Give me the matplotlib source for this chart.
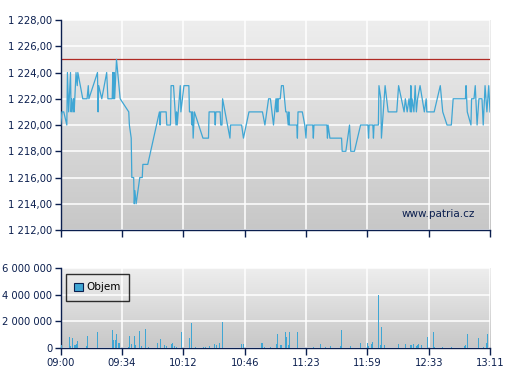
import numpy as np
import matplotlib
matplotlib.use("Agg")
import matplotlib.pyplot as plt
from matplotlib.ticker import FuncFormatter

# x = trade sequence position (axis runs 0..700, one time label every 100)
tick_labels = ["09:00", "09:34", "10:12", "10:46", "11:23", "11:59", "12:33", "13:11"]

price_x = [0, 2, 5, 10, 11, 13, 16, 17, 18, 20, 21, 22, 25, 27, 28, 36, 43, 45, 46, 60,
           61, 62, 67, 75, 77, 84, 85, 86, 87, 88, 91, 93, 97, 111, 112, 115, 116, 119, 120, 121,
           123, 126, 129, 133, 134, 142, 161, 162, 163, 172, 173, 179, 180, 184, 188, 189, 190, 195, 196, 201,
           209, 210, 213, 214, 215, 216, 218, 232, 241, 242, 251, 252, 253, 260, 261, 263, 264, 276, 277, 295,
           298, 307, 329, 333, 339, 342, 347, 351, 352, 353, 354, 355, 358, 360, 363, 367, 369, 371, 372, 373,
           385, 386, 387, 394, 398, 400, 401, 411, 412, 413, 434, 435, 436, 439, 458, 459, 465, 471, 473, 479,
           489, 501, 502, 503, 509, 510, 511, 518, 519, 522, 523, 526, 529, 534, 548, 551, 560, 562, 565, 568,
           570, 571, 572, 573, 576, 578, 580, 582, 586, 593, 596, 597, 609, 619, 623, 630, 637, 640, 660, 661,
           663, 669, 670, 674, 676, 679, 682, 687, 689, 692, 695, 698, 700]
price_y = [1220, 1221, 1221, 1220, 1224, 1221, 1224, 1221, 1222, 1221, 1222, 1221, 1224, 1223, 1224, 1222, 1222, 1223, 1222, 1224,
           1221, 1223, 1222, 1224, 1222, 1222, 1224, 1222, 1224, 1222, 1225, 1224, 1222, 1221, 1220, 1219, 1216, 1216, 1214, 1215,
           1214, 1215, 1216, 1216, 1217, 1217, 1221, 1220, 1221, 1221, 1220, 1220, 1223, 1223, 1220, 1221, 1220, 1223, 1221, 1223,
           1223, 1221, 1221, 1220, 1221, 1219, 1221, 1219, 1219, 1221, 1221, 1220, 1221, 1221, 1220, 1220, 1222, 1219, 1220, 1220,
           1219, 1221, 1221, 1220, 1222, 1222, 1220, 1222, 1221, 1222, 1221, 1222, 1222, 1223, 1223, 1221, 1221, 1220, 1221, 1220,
           1220, 1219, 1221, 1221, 1220, 1219, 1220, 1220, 1219, 1220, 1220, 1219, 1220, 1219, 1219, 1218, 1218, 1220, 1218, 1218,
           1220, 1220, 1219, 1220, 1220, 1219, 1220, 1220, 1223, 1222, 1219, 1221, 1223, 1221, 1221, 1223, 1221, 1222, 1221, 1222,
           1221, 1223, 1221, 1222, 1221, 1223, 1221, 1222, 1223, 1221, 1222, 1221, 1221, 1223, 1221, 1220, 1220, 1222, 1222, 1223,
           1221, 1220, 1222, 1222, 1223, 1220, 1222, 1222, 1220, 1223, 1221, 1223, 1221]

prev_close = 1225

vol_x = [2.1, 5.4, 14.1, 15.7, 19.0, 22.2, 24.4, 26.0, 27.1, 41.8, 43.4, 59.7, 84.2, 85.8, 89.1, 90.7, 94.0, 95.6,
         110.3, 111.9, 115.2, 120.1, 121.7, 128.2, 131.5, 138.0, 142.9, 157.6, 162.4, 169.0, 172.2, 180.4, 182.0,
         185.3, 188.5, 196.7, 209.7, 213.0, 219.5, 232.6, 235.8, 242.3, 250.5, 253.7, 258.6, 263.5, 294.5, 297.8,
         327.1, 328.8, 332.0, 341.8, 351.6, 353.2, 358.1, 359.7, 366.3, 367.9, 371.2, 372.8, 385.8, 412.0, 423.3,
         431.5, 439.7, 456.0, 457.6, 472.3, 488.9, 500.3, 501.9, 506.9, 508.6, 518.1, 521.4, 523.0, 527.9, 550.7,
         562.1, 570.3, 571.9, 575.2, 580.1, 581.7, 583.3, 588.2, 598.3, 607.7, 609.4, 622.4, 637.1, 658.3, 660.0,
         663.2, 681.2, 689.2, 694.1, 695.7]
vol_m = [0.23, 0.23, 0.85, 0.13, 0.77, 0.2, 0.2, 0.28, 0.5, 0.13, 0.9, 1.2, 1.36, 0.6, 0.6, 1.05, 0.38, 0.38,
         0.1, 0.92, 0.3, 0.92, 0.23, 1.3, 0.13, 1.46, 0.1, 0.38, 0.67, 0.23, 0.15, 0.28, 0.36,
         0.13, 0.08, 1.23, 0.77, 1.9, 0.08, 0.08, 0.08, 0.13, 0.28, 0.23, 0.36, 1.97, 0.28, 0.28,
         0.36, 0.36, 0.08, 0.08, 0.28, 1.05, 0.2, 0.2, 1.2, 0.82, 0.2, 1.2, 1.2, 0.08, 0.28,
         0.1, 0.13, 0.13, 1.36, 0.13, 0.36, 0.36, 0.13, 0.28, 0.44, 3.97, 0.23, 1.6, 0.2, 0.28,
         0.28, 0.2, 0.2, 0.28, 0.13, 0.2, 0.28, 0.2, 0.85, 1.2, 0.08, 0.08, 0.08, 0.13, 0.23,
         1.05, 0.77, 0.08, 0.36, 1.05]
volume = [v * 1e6 for v in vol_m]

navy = "#0b1f4f"
blue = "#3fa6d4"

plt.rcParams["font.family"] = "DejaVu Sans"
plt.rcParams["font.size"] = 7.2

fig = plt.figure(figsize=(5.07, 3.80), dpi=100)
ax = fig.add_axes([0.1197, 0.3947, 0.8467, 0.5526])
ax2 = fig.add_axes([0.1197, 0.0842, 0.8467, 0.2105])

grad = np.linspace(0, 1, 256).reshape(-1, 1)
for a in (ax, ax2):
    a.imshow(grad, extent=[0, 1, 0, 1], transform=a.transAxes, aspect="auto",
             cmap=matplotlib.colors.LinearSegmentedColormap.from_list("bg", ["#eeeeee", "#c7c7c7"]),
             zorder=0)
    a.set_xlim(0, 700)
    a.set_xticks(range(0, 701, 100))
    a.grid(True, color="white", linewidth=1.1, zorder=1)
    for s in ("top", "right"):
        a.spines[s].set_visible(False)
    for s in ("left", "bottom"):
        a.spines[s].set_color(navy)
        a.spines[s].set_linewidth(1.0)
    a.tick_params(colors=navy, labelcolor=navy, length=4, width=1.0, pad=2)

ax.plot(price_x, price_y, color=blue, linewidth=0.9, zorder=3)
ax.axhline(prev_close, color="#b02a24", linewidth=0.9, zorder=2)
ax.set_ylim(1212, 1228)
ax.set_yticks(range(1212, 1229, 2))
ax.yaxis.set_major_formatter(FuncFormatter(
    lambda v, p: f"{v:,.2f}".replace(",", " ").replace(".", ",")))
ax.set_xticklabels([])
ax.tick_params(axis="x", length=5)
ax.text(0.966, 0.075, "www.patria.cz", transform=ax.transAxes, ha="right", va="center",
        color=navy, fontsize=7.5, zorder=4)

ax2.bar(vol_x, volume, width=1.6, color=blue, zorder=3, label="Objem")
ax2.set_ylim(0, 6e6)
ax2.set_yticks([0, 2e6, 4e6, 6e6])
ax2.yaxis.set_major_formatter(FuncFormatter(lambda v, p: f"{v:,.0f}".replace(",", " ")))
ax2.set_xticklabels(tick_labels)
ax2.tick_params(axis="x", length=5, pad=2)
leg = ax2.legend(loc="upper left", bbox_to_anchor=(0.012, 0.925), borderaxespad=0,
                 frameon=True, fancybox=False,
                 handlelength=0.8, handleheight=0.8, handletextpad=0.4, borderpad=0.8,
                 fontsize=7.5)
leg.get_frame().set_edgecolor("black")
leg.get_frame().set_facecolor("none")
leg.get_frame().set_linewidth(1.0)
leg.legend_handles[0].set_edgecolor(navy)
leg.legend_handles[0].set_linewidth(0.8)

fig.savefig("out.png", dpi=100)
